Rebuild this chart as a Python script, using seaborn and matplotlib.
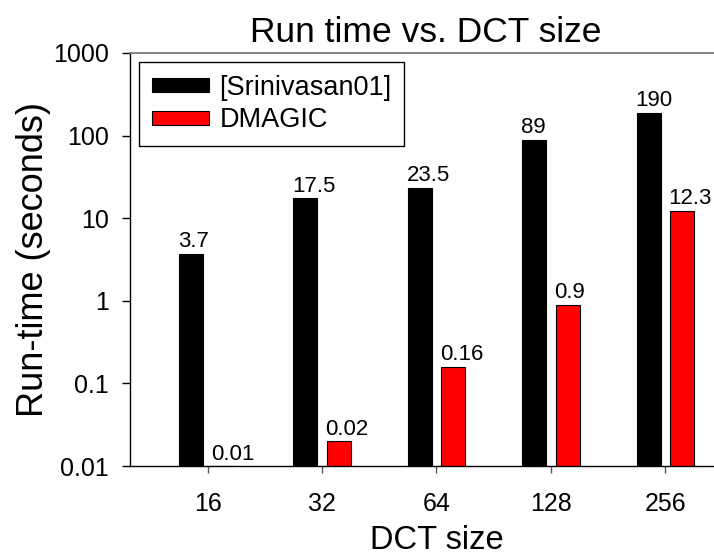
import matplotlib
matplotlib.use("Agg")
import matplotlib.pyplot as plt
import seaborn as sns
import pandas as pd

# ---- data ----
sizes = ["16", "32", "64", "128", "256"]
srinivasan = [3.7, 17.5, 23.5, 89, 190]
dmagic = [0.01, 0.02, 0.16, 0.9, 12.3]
srinivasan_labels = ["3.7", "17.5", "23.5", "89", "190"]
dmagic_labels = ["0.01", "0.02", "0.16", "0.9", "12.3"]
methods = ["[Srinivasan01]", "DMAGIC"]
y_ticks = [0.01, 0.1, 1, 10, 100, 1000]
y_tick_labels = ["0.01", "0.1", "1", "10", "100", "1000"]

df = pd.DataFrame({
    "size": sizes * 2,
    "time": srinivasan + dmagic,
    "method": [methods[0]] * len(sizes) + [methods[1]] * len(sizes),
})

sns.set_theme(style="ticks")
plt.rcParams["font.family"] = ["Liberation Sans", "DejaVu Sans"]
for k in ["text.color", "axes.labelcolor", "xtick.color", "ytick.color",
          "xtick.labelcolor", "ytick.labelcolor"]:
    plt.rcParams[k] = "black"

fig = plt.figure(figsize=(7.14, 5.55), dpi=100)
ax = fig.add_axes([130 / 714, 89 / 555, 613 / 714, 413 / 555])

sns.barplot(data=df, x="size", y="time", hue="method", order=sizes,
            hue_order=methods, palette={methods[0]: "black", methods[1]: "red"},
            width=0.584, gap=0.28, edgecolor="black", linewidth=0.8,
            saturation=1, ax=ax, errorbar=None)

ax.set_yscale("log")
ax.set_ylim(0.01, 1000)
ax.set_xlim(-0.68, 4.68)
ax.set_yticks(y_ticks, labels=y_tick_labels)
ax.minorticks_off()

# bar value labels (left aligned at each bar's left edge)
label_sets = [srinivasan_labels, dmagic_labels]
for cont, labs in zip(ax.containers, label_sets):
    for rect, lab in zip(cont, labs):
        x0 = rect.get_x()
        top = max(rect.get_y() + rect.get_height(), 0.01)
        ax.annotate(lab, (x0, top), xytext=(-1, 1), textcoords="offset points",
                    ha="left", va="bottom", fontsize=16, color="black")

ax.set_title("Run time vs. DCT size", fontsize=25.5, pad=8, x=0.482,
             color="black")
ax.set_xlabel("DCT size", fontsize=23.5, labelpad=6, color="black")
ax.set_ylabel("Run-time (seconds)", fontsize=26, labelpad=2, color="black")

ax.tick_params(axis="y", labelsize=18, length=6, width=1, color="black",
               labelcolor="black", direction="out", pad=9)
ax.tick_params(axis="x", labelsize=18, length=5, width=1, color="#555555",
               labelcolor="black", direction="out", pad=14)

for s in ["left", "bottom"]:
    ax.spines[s].set_color("black")
    ax.spines[s].set_linewidth(1)
ax.spines["top"].set_color("#707070")
ax.spines["top"].set_linewidth(1.2)
ax.spines["right"].set_visible(False)

leg = ax.legend(loc="upper left", fontsize=19.5, frameon=True, fancybox=False,
                edgecolor="black", framealpha=1, borderaxespad=0.35,
                borderpad=0.45, handlelength=2.1, handleheight=0.4,
                handletextpad=0.4, labelspacing=0.25, title=None)
leg.get_frame().set_linewidth(1)
for t in leg.get_texts():
    t.set_color("black")

fig.savefig("out.png", dpi=100)
